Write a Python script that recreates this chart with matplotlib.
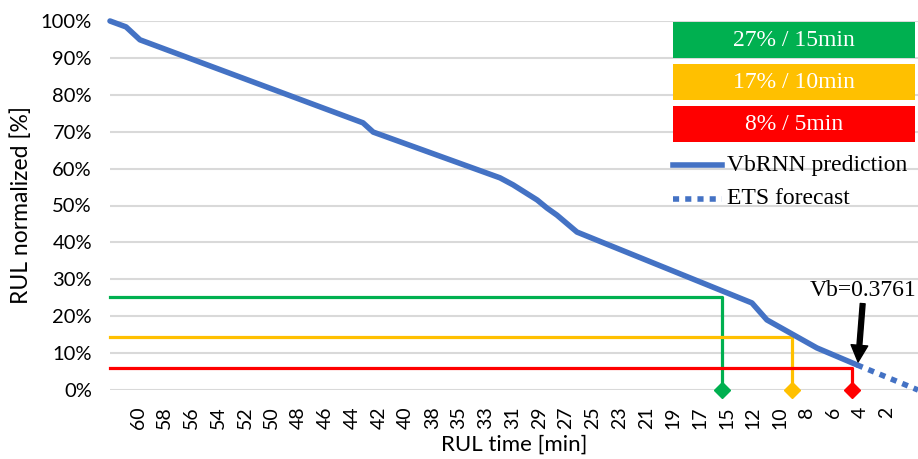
import matplotlib
matplotlib.use("Agg")
import matplotlib.pyplot as plt
from matplotlib.patches import Rectangle
from matplotlib.ticker import FuncFormatter

# ---- data ----
tick_labels = ["60", "58", "56", "54", "52", "50", "48", "46", "44", "42", "40", "38",
               "35", "33", "31", "29", "27", "25", "23", "21", "19", "17", "15", "12",
               "10", "8", "6", "4", "2"]
# x positions in units of tick-label index
pred_x = [-1.05, -0.45, 0.07, 8.41, 8.79, 13.53, 14.02, 14.92, 15.29, 15.66, 16.41,
          22.95, 23.51, 25.38, 26.88]
pred_y = [100.0, 98.4, 94.9, 72.4, 69.9, 57.5, 55.6, 51.5, 49.3, 47.4, 42.8,
          23.6, 19.0, 11.4, 6.8]
ets_x = [26.88, 29.16]
ets_y = [6.8, 0.0]
thr_x = [21.83, 24.45, 26.69]
thr_y = [25.1, 14.4, 6.0]
thr_colors = ["#00B050", "#FFC000", "#FF0000"]
thr_labels = ["27% / 15min", "17% / 10min", "8% / 5min"]
vb_point = (26.92, 7.6)
vb_text = "Vb=0.3761"

W, H = 918, 459
fig = plt.figure(figsize=(W / 100, H / 100), dpi=100)
ax = fig.add_axes([110 / W, 1 - 390 / H, (918 - 110) / W, (390 - 21) / H])

sans = ["Lato", "DejaVu Sans"]
serif = ["Liberation Serif", "DejaVu Serif"]

xmin, xmax = pred_x[0], ets_x[-1]
ax.set_xlim(xmin, xmax)
ax.set_ylim(0, 100)
ax.set_yticks(range(0, 101, 10))
ax.yaxis.set_major_formatter(FuncFormatter(lambda v, p: f"{v:.0f}%"))
ax.set_xticks(range(len(tick_labels)))
ax.set_xticklabels(tick_labels, rotation=90, family=sans, fontsize=14)
for lab in ax.get_yticklabels():
    lab.set_family(sans)
    lab.set_fontsize(14.5)
ax.tick_params(axis="y", length=0, pad=13)
ax.tick_params(axis="x", length=0, pad=12)
for s in ax.spines.values():
    s.set_visible(False)
ax.grid(axis="y", color="#d9d9d9", linewidth=1.5, zorder=0)
ax.set_axisbelow(True)

ax.set_ylabel("RUL normalized [%]", family=sans, fontsize=16.5, labelpad=6)
ax.set_xlabel("RUL time [min]", family=sans, fontsize=16, labelpad=4)

# threshold lines
for xv, yv, c in zip(thr_x, thr_y, thr_colors):
    ax.plot([xmin, xv, xv], [yv, yv, 0], color=c, lw=2.3, zorder=3, clip_on=False)
    ax.plot([xv], [0], marker="D", color=c, markersize=8, zorder=4, clip_on=False)

# prediction & forecast
ax.plot(pred_x, pred_y, color="#4472C4", lw=4, solid_capstyle="round",
        solid_joinstyle="round", zorder=5, clip_on=False)
ax.plot(ets_x, ets_y, color="#4472C4", lw=4, linestyle=(0, (1.1, 1.1)),
        dash_capstyle="butt", zorder=5, clip_on=False)

# annotation
ax.annotate(vb_text, xy=vb_point, xytext=(27.1, 27.0), ha="center", va="center",
            family=serif, fontsize=17,
            arrowprops=dict(facecolor="black", edgecolor="black", width=3.5,
                            headwidth=12, headlength=12, shrink=0.0),
            zorder=6)

# legend boxes (figure pixel layout)
box_tops = [22, 64, 106]
for top, c, t in zip(box_tops, thr_colors, thr_labels):
    h = 36
    fig.patches.append(Rectangle((673 / W, 1 - (top + h) / H), (915 - 673) / W, h / H,
                                 transform=fig.transFigure, facecolor=c,
                                 edgecolor="none"))
    fig.text(794 / W, 1 - (top + h / 2) / H, t, color="white", ha="center",
             va="center", family=serif, fontsize=17)

fig.add_artist(plt.Line2D([673 / W, 722 / W], [1 - 165 / H] * 2, color="#4472C4",
                          lw=4, transform=fig.transFigure))
fig.add_artist(plt.Line2D([673 / W, 722 / W], [1 - 199 / H] * 2, color="#4472C4",
                          lw=4, linestyle=(0, (1.1, 1.1)), transform=fig.transFigure))
fig.text(727 / W, 1 - 165 / H, "VbRNN prediction", ha="left", va="center",
         family=serif, fontsize=17)
fig.text(727 / W, 1 - 199 / H, "ETS forecast", ha="left", va="center",
         family=serif, fontsize=17)

fig.savefig("out.png", dpi=100)
